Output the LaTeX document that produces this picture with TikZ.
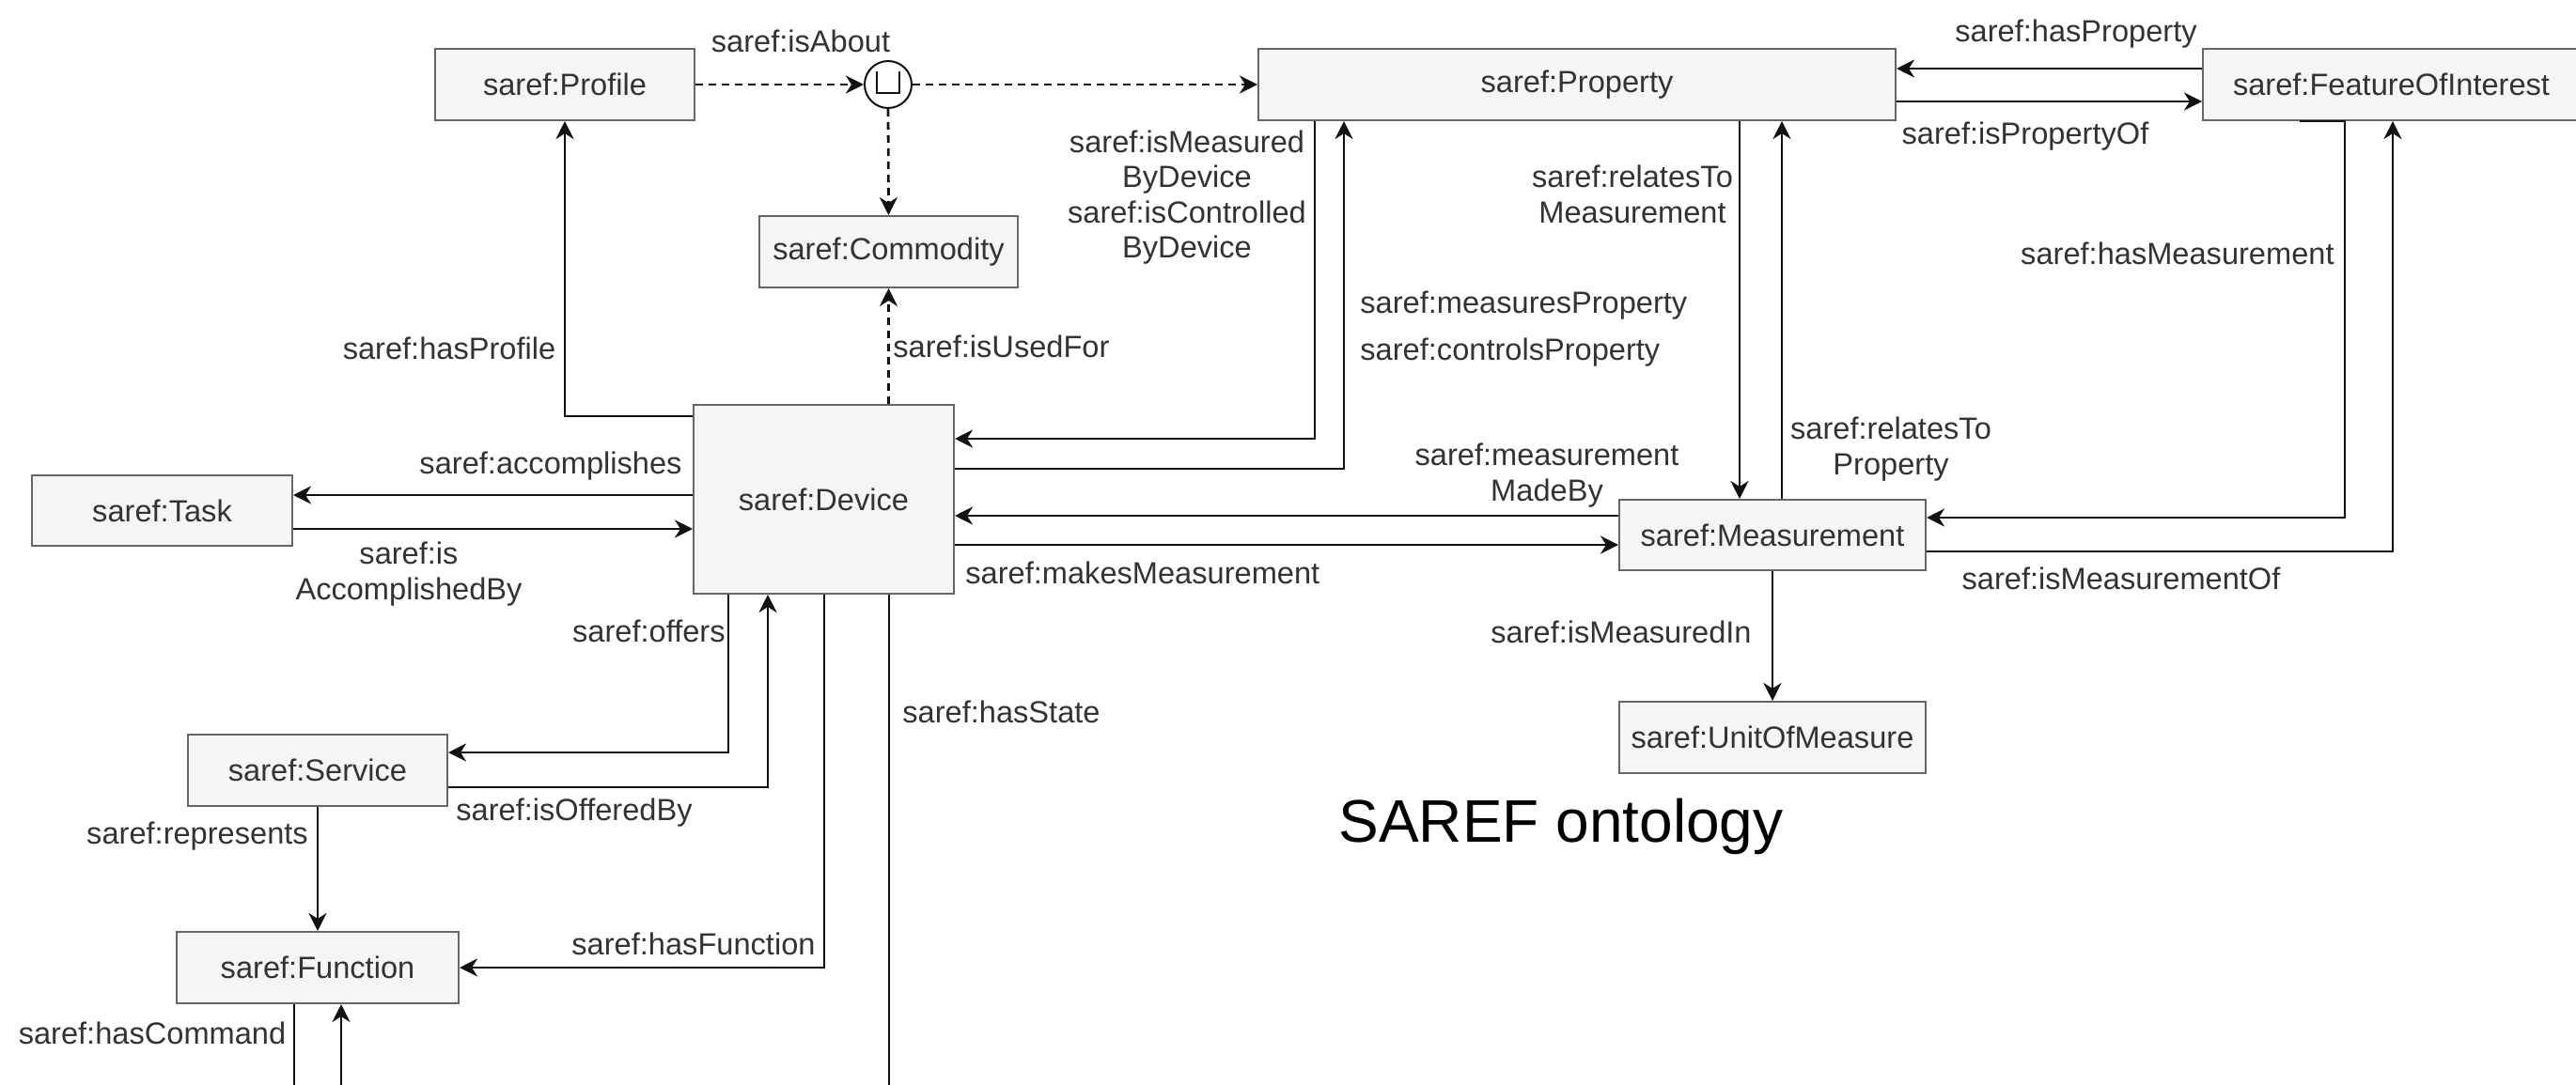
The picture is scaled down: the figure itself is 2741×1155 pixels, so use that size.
\documentclass[tikz,border=0pt]{standalone}
\usepackage{fontspec}
\setmainfont{Liberation Sans}
\usetikzlibrary{arrows.meta}
\definecolor{boxfill}{HTML}{F5F5F5}
\definecolor{boxline}{HTML}{666666}
\definecolor{txt}{HTML}{333333}
\definecolor{edgecol}{HTML}{111111}
\begin{document}
\begin{tikzpicture}[x=0.5pt,y=-0.5pt,
  box/.style={draw=boxline, fill=boxfill, line width=1pt, text=txt, inner sep=0pt,
    font=\fontsize{16.3}{19}\selectfont},
  lbl/.style={text=txt, inner sep=0pt, font=\fontsize{16.3}{18.8}\selectfont, align=center},
  edge/.style={draw=edgecol, line width=1.4pt, -{Stealth[length=9.5pt,width=9.5pt,inset=3pt]}},
  plainline/.style={draw=edgecol, line width=1.4pt},
  dashedge/.style={edge, dash pattern=on 4pt off 3pt},
]
\useasboundingbox (0,0) rectangle (2741,1155);
\fill[white] (0,0) rectangle (2741,1155);

% boxes
\node[box, minimum width=138pt, minimum height=38pt] (prof) at (601,90) {saref:Profile};
\node[box, minimum width=339pt, minimum height=38pt] (prop) at (1678,90) {saref:Property};
\node[box, minimum width=200.5pt, minimum height=38pt] (foi) at (2544.5,90) {saref:FeatureOfInterest};
\node[box, minimum width=137.5pt, minimum height=38pt] (com) at (945.5,268) {saref:Commodity};
\node[box, minimum width=138.5pt, minimum height=100.5pt] (dev) at (876.5,531.5) {saref:Device};
\node[box, minimum width=138.5pt, minimum height=37.5pt] (task) at (172.5,543.5) {saref:Task};
\node[box, minimum width=163pt, minimum height=37.5pt] (meas) at (1886,569.5) {saref:Measurement};
\node[box, minimum width=163pt, minimum height=38pt] (unit) at (1886,785) {saref:UnitOfMeasure};
\node[box, minimum width=138pt, minimum height=38pt] (serv) at (338,820) {saref:Service};
\node[box, minimum width=150pt, minimum height=38pt] (func) at (338,1030) {saref:Function};

% isAbout circle
\node[draw=edgecol, circle, minimum size=25pt, inner sep=0pt, line width=1pt, fill=white] (iab) at (945,90) {};
\draw[line width=0.9pt, edgecol] (933,76) -- (933,99) -- (957,99) -- (957,76);

% dashed edges
\draw[dashedge] (prof.east) -- (iab.west);
\draw[dashedge] (iab.east) -- (prop.west);
\draw[dashedge] (iab.south) -- (com.north);
\draw[dashedge] (dev.north -| com.south) -- (com.south);

% device left / bottom
\draw[edge] (dev.west |- 0,443) -| (prof.south);
\draw[edge] (dev.west |- 0,527) -- (task.east |- 0,527);
\draw[edge] (task.east |- 0,563) -- (dev.west |- 0,563);
\draw[edge] (dev.south -| 775,0) |- (serv.east |- 0,801);
\draw[edge] (serv.east |- 0,838) -| (dev.south -| 817,0);
\draw[edge] (dev.south -| 877,0) |- (func.east);
\coordinate (bstate) at (946,1162);
\draw[plainline] (dev.south -| bstate) -- (bstate);
\draw[edge] (serv.south) -- (func.north);
\coordinate (bcmd) at (313,1162);
\coordinate (bcmdof) at (363,1162);
\draw[plainline] (func.south -| bcmd) -- (bcmd);
\draw[edge] (bcmdof) -- (func.south -| bcmdof);

% device right
\draw[edge] (prop.south -| 1399,0) |- (dev.east |- 0,467);
\draw[edge] (dev.east |- 0,499) -| (prop.south -| 1430,0);
\draw[edge] (meas.west |- 0,549) -- (dev.east |- 0,549);
\draw[edge] (dev.east |- 0,580) -- (meas.west |- 0,580);

% property / measurement / foi
\draw[edge] (prop.south -| 1851,0) -- (meas.north -| 1851,0);
\draw[edge] (meas.north -| 1896,0) -- (prop.south -| 1896,0);
\draw[edge] (foi.west |- 0,73) -- (prop.east |- 0,73);
\draw[edge] (prop.east |- 0,108) -- (foi.west |- 0,108);
\draw[edge] (foi.south -| 2447,0) -- (foi.south -| 2495,0) |- (meas.east |- 0,551);
\draw[edge] (meas.east |- 0,587) -| (foi.south -| 2546,0);
\draw[edge] (meas.south) -- (unit.north);

% labels
\node[lbl] (l1) at (852,44) {saref:isAbout};
\node[lbl] (l2) at (1263,210) {saref:isMeasured\\ByDevice\\saref:isControlled\\ByDevice};
\node[lbl] (l3) at (478,371) {saref:hasProfile};
\node[lbl, anchor=west] (l4) at (950,369) {saref:isUsedFor};
\node[lbl] (l5) at (586,496) {saref:accomplishes};
\node[lbl] (l6) at (435,611) {saref:is\\AccomplishedBy};
\node[lbl, anchor=east] (l7) at (772,672) {saref:offers};
\node[lbl] (l8) at (611,865) {saref:isOfferedBy};
\node[lbl] (l9) at (210,890) {saref:represents};
\node[lbl] (l10) at (738,1005) {saref:hasFunction};
\node[lbl, anchor=west] (l11) at (960,758) {saref:hasState};
\node[lbl] (l12) at (162,1100) {saref:hasCommand};
\node[lbl, anchor=west] (l13) at (1447,325) {saref:measuresProperty};
\node[lbl, anchor=west] (l14) at (1447,375) {saref:controlsProperty};
\node[lbl] (l15) at (1737,207) {saref:relatesTo\\Measurement};
\node[lbl] (l16) at (2209,36) {saref:hasProperty};
\node[lbl] (l17) at (2155,145) {saref:isPropertyOf};
\node[lbl, anchor=east] (l18) at (2484,270) {saref:hasMeasurement};
\node[lbl] (l19) at (2012,478) {saref:relatesTo\\Property};
\node[lbl] (l20) at (1646,506) {saref:measurement\\MadeBy};
\node[lbl, anchor=west] (l21) at (1027,610) {saref:makesMeasurement};
\node[lbl] (l22) at (2257,616) {saref:isMeasurementOf};
\node[lbl] (l23) at (1725,673) {saref:isMeasuredIn};
\node[inner sep=0pt, text=black, font=\fontsize{32}{38}\selectfont] (title) at (1661,880) {SAREF ontology};
\end{tikzpicture}
\end{document}
